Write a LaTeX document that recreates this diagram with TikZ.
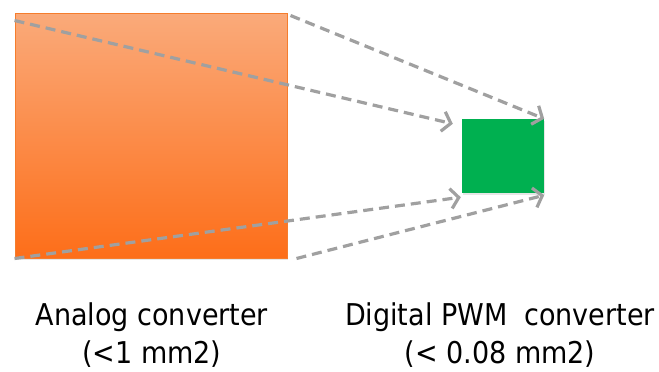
\documentclass[tikz,border=0pt]{standalone}
\usepackage{fontspec}
\setmainfont{DejaVu Sans Condensed}
\usetikzlibrary{calc,arrows.meta,shadows}

\definecolor{orangetop}{RGB}{250,170,122}
\definecolor{orangebot}{RGB}{253,110,25}
\definecolor{orangeline}{RGB}{245,125,45}
\definecolor{pwmgreen}{RGB}{0,176,80}
\definecolor{arrowgray}{RGB}{160,160,160}

\begin{document}
\begin{tikzpicture}[x=1pt,y=-1pt,
  chip/.style={inner sep=0pt,
    drop shadow={opacity=0.2,shadow xshift=1pt,shadow yshift=-2pt}},
  proj/.style={draw=arrowgray,line width=3.2pt,dash pattern=on 10pt off 6pt,
    -{Straight Barb[length=8pt,width=20pt]}},
  caption/.style={align=center,inner sep=0pt,font=\fontsize{30}{38}\selectfont}]
  \useasboundingbox (0,0) rectangle (659,372);

  % cele doua circuite
  \node[chip,draw=orangeline,line width=1pt,top color=orangetop,bottom color=orangebot,
    minimum width=272pt,minimum height=245pt] (analog) at (151,135.5) {};
  \node[chip,fill=pwmgreen,minimum width=82pt,minimum height=74pt] (digital) at (503,156) {};

  % proiectia colturilor
  \draw[proj] ($(analog.north west)+(0,8)$) -- ($(digital.north west)+(-9,5)$);
  \draw[proj] ($(analog.north east)+(3,3)$) -- (digital.north east);
  \draw[proj] (analog.south west) -- ($(digital.south west)+(-1,4)$);
  \draw[proj] ($(analog.south east)+(9,0)$) -- ($(digital.south east)+(0,2)$);

  % etichetele
  \node[caption,anchor=north] (analogtxt) at (152,303) {Analog converter\\(<1 mm2)};
  \node[caption,anchor=north] (digitaltxt) at (500,303) {Digital PWM\ \ converter\\(< 0.08 mm2)};
\end{tikzpicture}
\end{document}
